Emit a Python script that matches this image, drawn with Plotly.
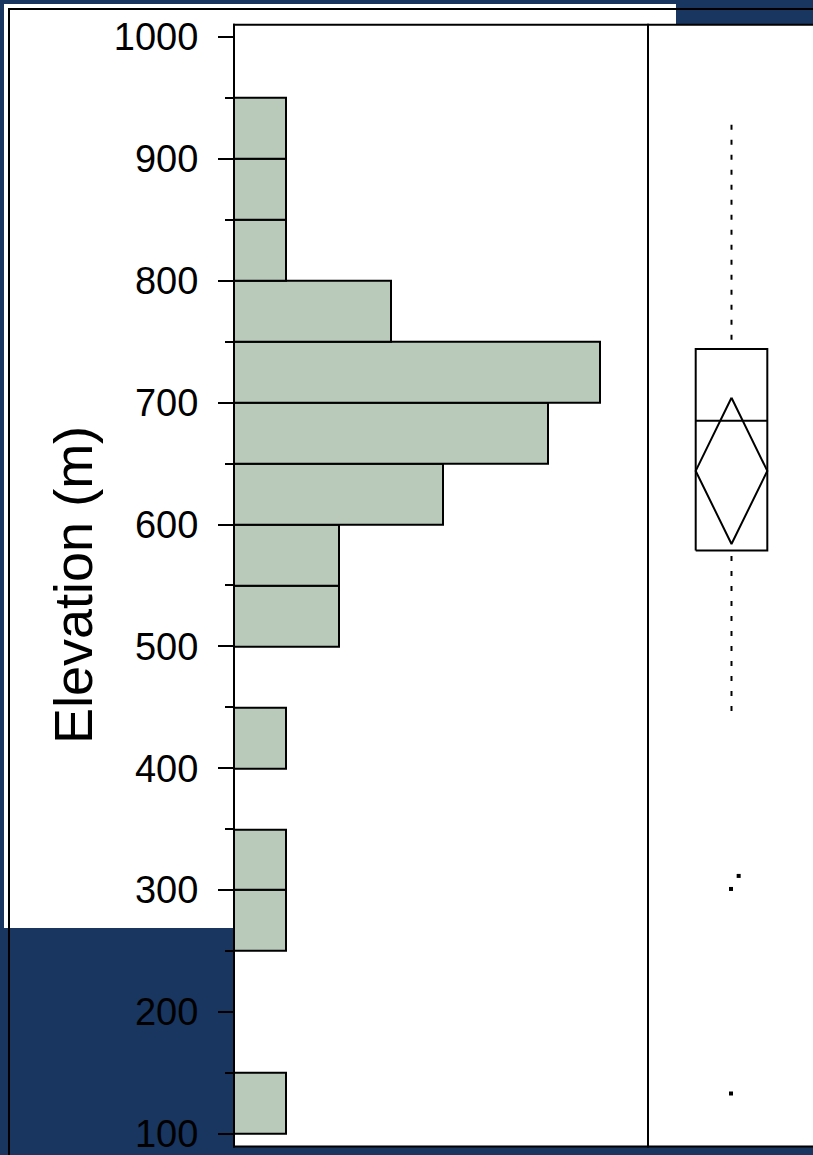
import plotly.graph_objects as go

# ---- data ----
bin_lo = [100, 150, 200, 250, 300, 350, 400, 450, 500, 550, 600, 650, 700, 750, 800, 850, 900]
bin_width = 50
counts = [1, 0, 0, 1, 1, 0, 1, 0, 2, 2, 4, 6, 7, 3, 1, 1, 1]

q1 = 578.6
median = 685.2
q3 = 744.0
lower_whisker = 447
upper_whisker = 928
mean = 644.0
mean_ci_half = 60.0
outlier_vals = [311.7, 301.0, 133.1]
outlier_jitter = [0.10, -0.007, -0.007]

y_ticks = [100, 200, 300, 400, 500, 600, 700, 800, 900, 1000]

# ---- geometry helpers (page pixels -> paper) ----
W, H = 813, 1155
def px(x): return x / W
def py(y): return 1 - y / H

NAVY = "#183660"
BAR = "#b9cabb"

fig = go.Figure()

cent = [b + bin_width / 2 for b, c in zip(bin_lo, counts) if c > 0]
cnt = [c for c in counts if c > 0]
fig.add_trace(go.Bar(
    x=cnt, y=cent, orientation="h", width=bin_width,
    marker=dict(color=BAR, line=dict(color="black", width=2)),
    xaxis="x", yaxis="y", showlegend=False, hoverinfo="skip"))

bx0, bx1, bc = -0.5, 0.5, 0.0
fig.add_trace(go.Scatter(
    x=[bx0, bx1, bx1, bx0, bx0], y=[q1, q1, q3, q3, q1], mode="lines",
    line=dict(color="black", width=2), xaxis="x2", yaxis="y", showlegend=False))
fig.add_trace(go.Scatter(
    x=[bx0, bx1], y=[median, median], mode="lines",
    line=dict(color="black", width=2), xaxis="x2", yaxis="y", showlegend=False))
fig.add_trace(go.Scatter(
    x=[bc, bx1, bc, bx0, bc],
    y=[mean + mean_ci_half, mean, mean - mean_ci_half, mean, mean + mean_ci_half],
    mode="lines", line=dict(color="black", width=2),
    xaxis="x2", yaxis="y", showlegend=False))
# whiskers drawn from the whisker ends toward the box
for a, b in [(upper_whisker, q3), (lower_whisker, q1)]:
    fig.add_trace(go.Scatter(
        x=[bc, bc], y=[a, b], mode="lines",
        line=dict(color="black", width=2, dash="5px,10px"),
        xaxis="x2", yaxis="y", showlegend=False))
fig.add_trace(go.Scatter(
    x=outlier_jitter, y=outlier_vals, mode="markers",
    marker=dict(symbol="square", size=4, color="black"),
    xaxis="x2", yaxis="y", showlegend=False))

shapes = [
    dict(type="rect", xref="paper", yref="paper", x0=px(4), x1=px(676), y0=py(928), y1=py(4),
         fillcolor="white", line=dict(width=0), layer="below"),
    dict(type="rect", xref="paper", yref="paper", x0=px(234), x1=px(813), y0=py(1146.5), y1=py(24.7),
         fillcolor="white", line=dict(width=0), layer="below"),
    dict(type="line", xref="paper", yref="paper", x0=px(8), x1=px(813), y0=py(9), y1=py(9),
         line=dict(color="black", width=2)),
    dict(type="line", xref="paper", yref="paper", x0=px(9), x1=px(9), y0=py(9), y1=py(1155),
         line=dict(color="black", width=2)),
    dict(type="line", xref="paper", yref="paper", x0=px(233), x1=px(813), y0=py(24.7), y1=py(24.7),
         line=dict(color="black", width=2)),
    dict(type="line", xref="paper", yref="paper", x0=px(233), x1=px(813), y0=py(1146.5), y1=py(1146.5),
         line=dict(color="black", width=2)),
    dict(type="line", xref="paper", yref="paper", x0=px(234), x1=px(234), y0=py(1147.5), y1=py(23.7),
         line=dict(color="black", width=2)),
    dict(type="line", xref="paper", yref="paper", x0=px(648), x1=px(648), y0=py(1147.5), y1=py(23.7),
         line=dict(color="black", width=2)),
]

fig.update_layout(
    width=W, height=H, autosize=False, margin=dict(l=0, r=0, t=0, b=0, pad=0, autoexpand=False),
    paper_bgcolor=NAVY, plot_bgcolor="rgba(0,0,0,0)",
    bargap=0, showlegend=False,
    shapes=shapes,
    xaxis=dict(domain=[px(234), px(648)], range=[0, 7.916], visible=False, anchor="y",
               fixedrange=True, automargin=False),
    xaxis2=dict(domain=[px(648), 1], range=[-1.166, 1.138], visible=False, anchor="y",
                fixedrange=True, automargin=False),
    yaxis=dict(domain=[py(1146.5), py(24.7)], range=[89.7, 1010.1], automargin=False,
               tickvals=y_ticks, ticktext=[str(v) for v in y_ticks],
               ticks="outside", ticklen=15, tickwidth=2, tickcolor="black",
               minor=dict(ticks="outside", ticklen=8, tickwidth=2, tickcolor="black", dtick=50, tick0=50),
               showgrid=False, zeroline=False, showline=False,
               tickfont=dict(family="Liberation Sans, Arial", size=38, color="black"),
               ticklabelstandoff=12, ticklabeloverflow="allow"),
    annotations=[dict(text="Elevation (m)", xref="paper", yref="paper", x=px(73), y=py(585),
                      xanchor="center", yanchor="middle",
                      textangle=-90, showarrow=False,
                      font=dict(family="Liberation Sans, Arial", size=54, color="black"))],
)

fig.write_html("out.html")
